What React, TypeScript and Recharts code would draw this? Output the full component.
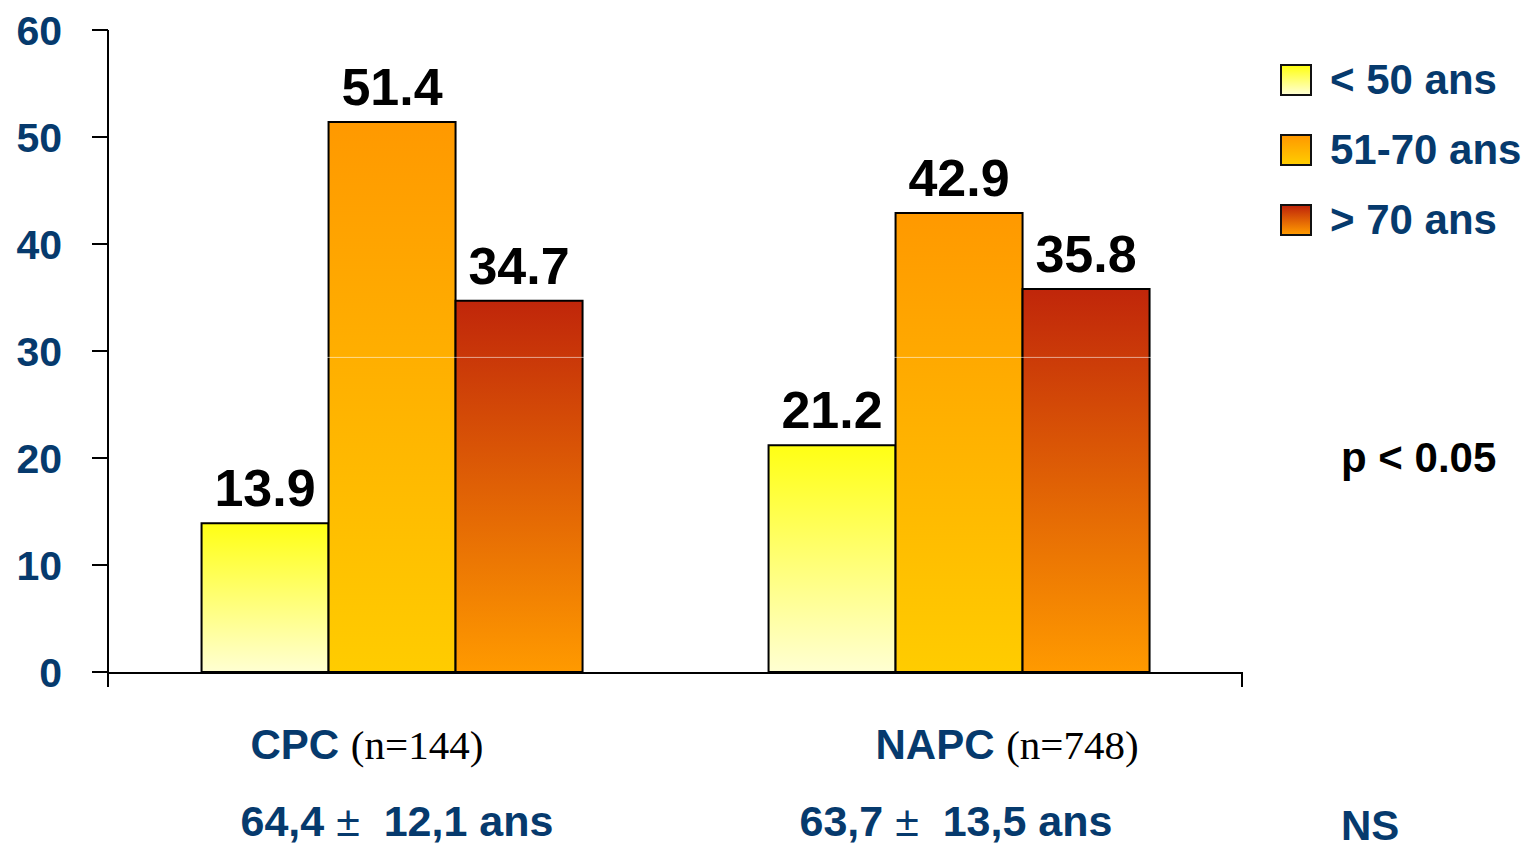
import React from 'react';
import {
  BarChart, Bar, XAxis, YAxis, LabelList, ReferenceLine,
} from 'recharts';

// Répartition par tranche d'âge (%)
const categories = ['CPC', 'NAPC'];
const sampleSizes = ['(n=144)', '(n=748)'];
const meanAge = ['64,4', '63,7'];
const sdAge = ['12,1', '13,5'];

const under50 = [13.9, 21.2];
const from51to70 = [51.4, 42.9];
const over70 = [34.7, 35.8];

const seriesNames = ['< 50 ans', '51-70 ans', '> 70 ans'];
const yTicks = [0, 10, 20, 30, 40, 50, 60];

const pValue = 'p < 0.05';
const ageTest = 'NS';

const data = categories.map((name, i) => ({
  name,
  under50: under50[i],
  from51to70: from51to70[i],
  over70: over70[i],
}));

const NAVY = '#063a6d';
const SANS = '"Liberation Sans", Arial, Helvetica, sans-serif';
const SERIF = '"Liberation Serif", "Times New Roman", serif';

// gradient stops: top colour, bottom colour
const gradients = [
  { id: 'gradYoung', top: '#ffff14', bottom: '#ffffd2' },
  { id: 'gradMid', top: '#ff9900', bottom: '#ffcc00' },
  { id: 'gradOld', top: '#c0260a', bottom: '#ff9a00' },
];

// horizontal start of the two label rows under each group
const rowOneShift = [-141, -83];
const rowTwoShift = [-151, -159];

const CategoryTick = (props: any) => {
  const { x, y, payload } = props;
  const i = payload.index;
  return (
    <g>
      <text x={x + rowOneShift[i]} y={y + 78} textAnchor="start" style={{ whiteSpace: 'pre' }}>
        <tspan fontFamily={SANS} fontWeight="bold" fontSize={42} fill={NAVY}>{categories[i]} </tspan>
        <tspan fontFamily={SERIF} fontSize={41} fill="#000">{sampleSizes[i]}</tspan>
      </text>
      <text
        x={x + rowTwoShift[i]}
        y={y + 155}
        textAnchor="start"
        fontFamily={SANS}
        fontSize={43}
        fill={NAVY}
        style={{ whiteSpace: 'pre' }}
      >
        <tspan fontWeight="bold">{meanAge[i]} </tspan>
        <tspan fontWeight="normal">{'\u00b1'}</tspan>
        <tspan fontWeight="bold">{`  ${sdAge[i]} ans`}</tspan>
      </text>
    </g>
  );
};

const labelProps = {
  position: 'top' as const,
  offset: 17,
  fill: '#000',
  fontSize: 52,
  fontWeight: 'bold',
  fontFamily: SANS,
};

export default function App() {
  return (
    <div style={{ position: 'absolute', left: 0, top: 0, width: 1528, height: 847, background: '#fff' }}>
      <BarChart
        width={1528}
        height={847}
        data={data}
        margin={{ top: 30, right: 286, left: 0, bottom: 0 }}
        barCategoryGap="16.5%"
        barGap={0}
      >
        <defs>
          {gradients.map((g) => (
            <linearGradient key={g.id} id={g.id} x1="0" y1="0" x2="0" y2="1">
              <stop offset="0%" stopColor={g.top} />
              <stop offset="100%" stopColor={g.bottom} />
            </linearGradient>
          ))}
        </defs>
        {/* end marks of the baseline, stacked right under the plot */}
        <XAxis
          xAxisId="axisEnds"
          type="number"
          domain={[0, 1]}
          ticks={[0, 1]}
          height={1}
          tick={() => <g />}
          axisLine={false}
          tickSize={15}
          tickLine={{ stroke: '#000', strokeWidth: 2 }}
        />
        <XAxis
          xAxisId="cat"
          dataKey="name"
          height={174}
          tickLine={false}
          axisLine={{ stroke: '#000', strokeWidth: 2 }}
          tick={<CategoryTick />}
          interval={0}
        />
        <YAxis
          width={108}
          domain={[0, 60]}
          ticks={yTicks}
          tickSize={16}
          tickMargin={30}
          axisLine={{ stroke: '#000', strokeWidth: 2 }}
          tickLine={{ stroke: '#000', strokeWidth: 2 }}
          tick={{ fill: NAVY, fontSize: 41, fontWeight: 'bold', fontFamily: SANS }}
        />
        <Bar xAxisId="cat" dataKey="under50" name={seriesNames[0]} fill="url(#gradYoung)" stroke="#000" strokeWidth={2} isAnimationActive={false}>
          <LabelList dataKey="under50" {...labelProps} />
        </Bar>
        <Bar xAxisId="cat" dataKey="from51to70" name={seriesNames[1]} fill="url(#gradMid)" stroke="#000" strokeWidth={2} isAnimationActive={false}>
          <LabelList dataKey="from51to70" {...labelProps} />
        </Bar>
        <Bar xAxisId="cat" dataKey="over70" name={seriesNames[2]} fill="url(#gradOld)" stroke="#000" strokeWidth={2} isAnimationActive={false}>
          <LabelList dataKey="over70" {...labelProps} />
        </Bar>
        {/* faint light seam across the tall bars */}
        <ReferenceLine xAxisId="cat" y={29.4} stroke="#fff" strokeOpacity={0.55} strokeWidth={1} />
      </BarChart>

      {/* legend */}
      <div style={{ position: 'absolute', left: 1280, top: 60, fontFamily: SANS }}>
        {seriesNames.map((name, i) => (
          <div key={name} style={{ display: 'flex', alignItems: 'center', height: 40, marginBottom: 30 }}>
            <div
              style={{
                width: 28,
                height: 28,
                border: '2px solid #111',
                background: `linear-gradient(${gradients[i].top}, ${gradients[i].bottom})`,
              }}
            />
            <span style={{ marginLeft: 18, fontSize: 42, fontWeight: 'bold', color: NAVY, lineHeight: '40px' }}>
              {name}
            </span>
          </div>
        ))}
      </div>

      <div style={{ position: 'absolute', left: 1341, top: 434, fontFamily: SANS, fontSize: 42, fontWeight: 'bold', color: '#000', lineHeight: '48px' }}>
        {pValue}
      </div>
      <div style={{ position: 'absolute', left: 1341, top: 802, fontFamily: SANS, fontSize: 42, fontWeight: 'bold', color: NAVY, lineHeight: '48px' }}>
        {ageTest}
      </div>
    </div>
  );
}
